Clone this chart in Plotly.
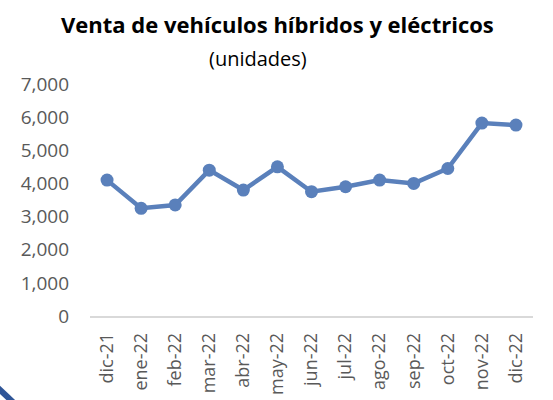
import plotly.graph_objects as go

months = ["dic-21", "ene-22", "feb-22", "mar-22", "abr-22", "may-22", "jun-22",
          "jul-22", "ago-22", "sep-22", "oct-22", "nov-22", "dic-22"]
ventas = [4100, 3250, 3350, 4400, 3800, 4500, 3750, 3900, 4100, 4000, 4450, 5820, 5760]
y_ticks = [0, 1000, 2000, 3000, 4000, 5000, 6000, 7000]

color = "#5A80BB"
font = "Open Sans"

W, H = 553, 400
L, R, T, B = 90, 20, 84, 84
PW, PH = W - L - R, H - T - B


def px(x):
    return (x - L) / PW


def py(y):
    return (H - B - y) / PH


fig = go.Figure()
fig.add_trace(go.Scatter(
    x=months, y=ventas, mode="lines+markers",
    line=dict(color=color, width=4.5),
    marker=dict(color=color, size=13),
    hoverinfo="skip", showlegend=False,
))

fig.update_layout(
    width=W, height=H,
    margin=dict(l=L, r=R, t=T, b=B),
    paper_bgcolor="white", plot_bgcolor="white",
    font=dict(family=font, color="#595959", size=18),
    annotations=[
        dict(text="<b>Venta de vehículos híbridos y eléctricos</b>", x=px(277), y=py(24),
             xref="paper", yref="paper", showarrow=False, yanchor="middle",
             font=dict(family=font, size=22, color="#000000")),
        dict(text="(unidades)", x=px(258), y=py(58), xref="paper", yref="paper",
             showarrow=False, yanchor="middle",
             font=dict(family=font, size=20, color="#000000")),
    ],
)

fig.update_xaxes(
    type="category", showgrid=False, showline=True, linecolor="#D9D9D9", linewidth=1.5,
    tickangle=-90, ticks="", tickfont=dict(size=18, color="#595959"),
    ticklabelstandoff=8,
    range=[-0.5, len(months) - 0.5], automargin=False,
)
fig.update_yaxes(
    range=[0, 7000], tickvals=y_ticks, tickformat=",", showgrid=False,
    zeroline=False, showline=False, ticks="", ticklabelstandoff=20,
    tickfont=dict(size=19, color="#595959"), automargin=False,
)

fig.add_shape(type="line", xref="paper", yref="paper",
              x0=px(-3), y0=py(387), x1=px(16), y1=py(405),
              line=dict(color="#2F5597", width=6))

fig.write_html("out.html", config={"displayModeBar": False},
               post_script="document.body.style.margin='0';")
